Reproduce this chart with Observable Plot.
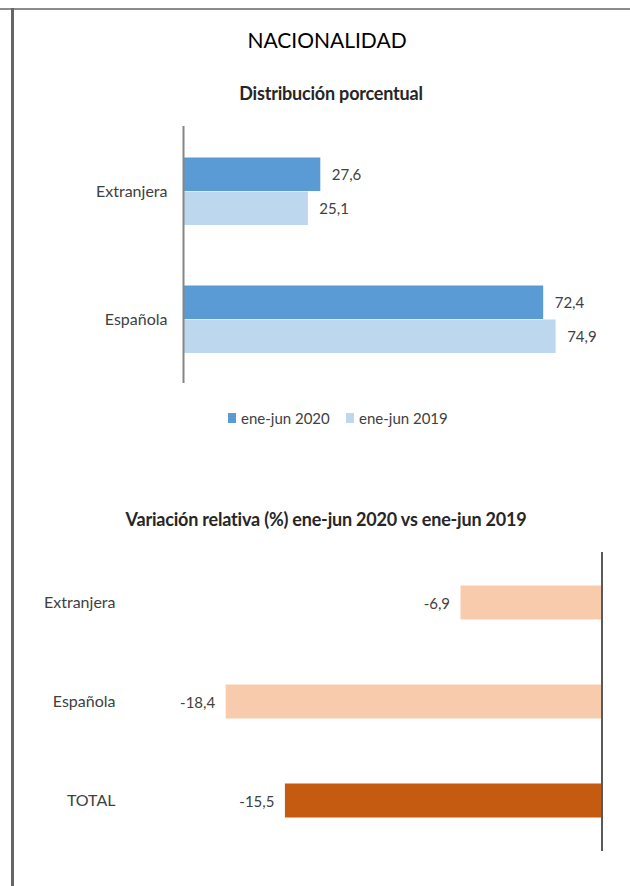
<!DOCTYPE html>
<html>
<head>
<meta charset="utf-8">
<script src="https://cdn.jsdelivr.net/npm/d3@7"></script>
<script src="https://cdn.jsdelivr.net/npm/@observablehq/plot@0.6"></script>
<style>
  html, body { margin: 0; padding: 0; background: #fff; }
  #page { position: relative; width: 630px; height: 886px; overflow: hidden; font-family: Lato, "Open Sans", sans-serif; color: #404040; }
  .abs { position: absolute; }
  .title { font-size: 21px; font-weight: 400; color: #000; text-align: center; line-height: 26px; }
  .sub { font-size: 18px; font-weight: 700; color: #262626; text-align: center; line-height: 22px; white-space: nowrap; letter-spacing: -0.2px; }
  .leg { font-size: 15px; line-height: 18px; white-space: nowrap; }
</style>
</head>
<body>
<div id="page">
  <div class="abs" style="left:0;top:8px;width:630px;height:2px;background:#8c8c8c"></div>
  <div class="abs" style="left:11px;top:8px;width:3px;height:878px;background:#666"></div>
  <div class="abs title" style="left:227px;top:27px;width:200px">NACIONALIDAD</div>
  <div class="abs sub" style="left:181px;top:82px;width:300px">Distribución porcentual</div>
  <div id="chart1" class="abs" style="left:0;top:100px"></div>
  <div id="legend"></div>
  <div class="abs sub" style="left:76px;top:508px;width:500px">Variación relativa (%) ene-jun 2020 vs ene-jun 2019</div>
  <div id="chart2" class="abs" style="left:0;top:530px"></div>
</div>
<script>
// ---- data ----
const categories1 = ["Extranjera", "Española"];
const series = ["ene-jun 2020", "ene-jun 2019"];
const values2020 = [27.6, 72.4];
const values2019 = [25.1, 74.9];

const categories2 = ["Extranjera", "Española", "TOTAL"];
const variation = [-6.9, -18.4, -15.5];

// ---- styles ----
const colorsSeries = ["#5B9BD5", "#BDD7EE"];
const colorsVar = ["#F8CBAD", "#F8CBAD", "#C55A11"];
const textColor = "#404040";
const fmt = d => d.toFixed(1).replace(".", ",");

const rows2020 = categories1.map((c, i) => ({cat: c, v: values2020[i]}));
const rows2019 = categories1.map((c, i) => ({cat: c, v: values2019[i]}));
const rowsVar = categories2.map((c, i) => ({cat: c, v: variation[i], color: colorsVar[i]}));

const font = {fontFamily: "Lato, 'Open Sans', sans-serif", fontSize: "15px", color: textColor, background: "transparent", overflow: "visible"};

// ---- chart 1 ----
const chart1 = Plot.plot({
  width: 630,
  height: 300,
  marginTop: 26,
  marginBottom: 17,
  marginLeft: 183,
  marginRight: 49,
  style: font,
  x: {domain: [0, 80], axis: null},
  y: {domain: categories1, padding: 0, axis: null},
  marks: [
    Plot.barX(rows2020, {x: "v", y: "cat", fill: colorsSeries[0], insetTop: 30.5, insetBottom: 64}),
    Plot.barX(rows2019, {x: "v", y: "cat", fill: colorsSeries[1], insetTop: 64.5, insetBottom: 30}),
    Plot.text(rows2020, {x: "v", y: "cat", text: d => fmt(d.v), textAnchor: "start", dx: 11, dy: -16, fill: textColor, fontSize: 15}),
    Plot.text(rows2019, {x: "v", y: "cat", text: d => fmt(d.v), textAnchor: "start", dx: 11, dy: 18, fill: textColor, fontSize: 15}),
    Plot.axisY({tickSize: 0, tickPadding: 16, label: null, fontSize: 16}),
    Plot.ruleX([0], {stroke: "#868686", strokeWidth: 2})
  ]
});
document.getElementById("chart1").appendChild(chart1);

// ---- legend ----
const legend = document.getElementById("legend");
const legendPos = [228, 346];
series.forEach((s, i) => {
  const sw = document.createElement("div");
  sw.className = "abs";
  sw.style.cssText = `left:${legendPos[i]}px;top:413px;width:8px;height:10px;background:${colorsSeries[i]}`;
  legend.appendChild(sw);
  const t = document.createElement("div");
  t.className = "abs leg";
  t.style.cssText = `left:${legendPos[i] + 13}px;top:409px;`;
  t.textContent = s;
  legend.appendChild(t);
});

// ---- chart 2 ----
const chart2 = Plot.plot({
  width: 630,
  height: 340,
  marginTop: 22,
  marginBottom: 19,
  marginLeft: 193,
  marginRight: 28.5,
  style: font,
  x: {domain: [-20, 0], axis: null},
  y: {domain: categories2, padding: 0, axis: null},
  marks: [
    Plot.barX(rowsVar, {x: "v", y: "cat", fill: "color", insetTop: 32.5, insetBottom: 32.5}),
    Plot.text(rowsVar, {x: "v", y: "cat", text: d => fmt(d.v), textAnchor: "end", dx: -11, dy: 1, fill: textColor, fontSize: 15}),
    Plot.axisY({tickSize: 0, tickPadding: 78, label: null, fontSize: 16}),
    Plot.ruleX([0], {stroke: "#595959", strokeWidth: 2})
  ]
});
document.getElementById("chart2").appendChild(chart2);
</script>
</body>
</html>
